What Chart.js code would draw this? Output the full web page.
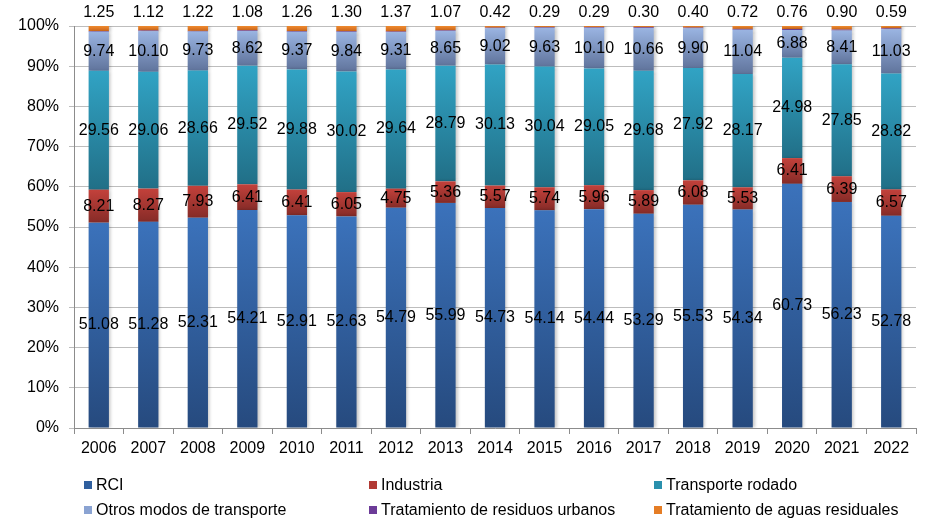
<!DOCTYPE html>
<html lang="es">
<head>
<meta charset="utf-8">
<title>Distribución de emisiones por sector</title>
<script src="https://cdn.jsdelivr.net/npm/chart.js@4"></script>
<style>
  html, body { margin: 0; padding: 0; background: #ffffff; }
  #wrap { width: 934px; height: 521px; position: relative; }
</style>
</head>
<body>
<div id="wrap"><canvas id="emisiones-canvas" width="934" height="521"></canvas></div>
<script>
// años y porcentajes por sector
const years = ["2006", "2007", "2008", "2009", "2010", "2011", "2012", "2013", "2014",
  "2015", "2016", "2017", "2018", "2019", "2020", "2021", "2022"];
const rci = [51.08, 51.28, 52.31, 54.21, 52.91, 52.63, 54.79, 55.99, 54.73,
  54.14, 54.44, 53.29, 55.53, 54.34, 60.73, 56.23, 52.78];
const industria = [8.21, 8.27, 7.93, 6.41, 6.41, 6.05, 4.75, 5.36, 5.57,
  5.74, 5.96, 5.89, 6.08, 5.53, 6.41, 6.39, 6.57];
const transporteRodado = [29.56, 29.06, 28.66, 29.52, 29.88, 30.02, 29.64, 28.79, 30.13,
  30.04, 29.05, 29.68, 27.92, 28.17, 24.98, 27.85, 28.82];
const otrosTransporte = [9.74, 10.10, 9.73, 8.62, 9.37, 9.84, 9.31, 8.65, 9.02,
  9.63, 10.10, 10.66, 9.90, 11.04, 6.88, 8.41, 11.03];
const residuosUrbanos = [0.16, 0.17, 0.15, 0.16, 0.17, 0.16, 0.14, 0.14, 0.13,
  0.16, 0.16, 0.18, 0.17, 0.20, 0.24, 0.22, 0.21];
const aguasResiduales = [1.25, 1.12, 1.22, 1.08, 1.26, 1.30, 1.37, 1.07, 0.42,
  0.29, 0.29, 0.30, 0.40, 0.72, 0.76, 0.90, 0.59];
const yTicks = [0, 10, 20, 30, 40, 50, 60, 70, 80, 90, 100];

const FONT = "'Liberation Sans', Arial, sans-serif";

// degradado vertical dentro de cada segmento apilado
function segmentFill(top, bottom, flat) {
  return function (c) {
    const chart = c.chart;
    if (!chart.chartArea || c.type !== "data") return flat;
    const y = chart.scales.y;
    let base = 0;
    for (let i = 0; i < c.datasetIndex; i++) base += chart.data.datasets[i].data[c.dataIndex];
    const v = chart.data.datasets[c.datasetIndex].data[c.dataIndex];
    const y0 = y.getPixelForValue(base + v);
    const y1 = y.getPixelForValue(base);
    if (!isFinite(y0) || !isFinite(y1) || y0 === y1) return flat;
    const g = chart.ctx.createLinearGradient(0, y0, 0, y1);
    g.addColorStop(0, top);
    g.addColorStop(1, bottom);
    return g;
  };
}

function makeDataset(label, data, top, bottom, flat) {
  return {
    label: label,
    data: data,
    backgroundColor: segmentFill(top, bottom, flat),
    legendColor: flat,
    borderWidth: 0,
    barPercentage: 0.41,
    categoryPercentage: 1.0,
  };
}

const datasets = [
  makeDataset("RCI", rci, "#3b72bb", "#264a7e", "#2f5f9e"),
  makeDataset("Industria", industria, "#c3413b", "#862b27", "#b23a34"),
  makeDataset("Transporte rodado", transporteRodado, "#31a3c4", "#216f87", "#2a90ad"),
  makeDataset("Otros modos de transporte", otrosTransporte, "#9ab4e2", "#60749c", "#8aa3d2"),
  makeDataset("Tratamiento de residuos urbanos", residuosUrbanos, "#7a45a8", "#5c2f85", "#6c3b98"),
  makeDataset("Tratamiento de aguas residuales", aguasResiduales, "#ee8a2e", "#d0681c", "#e57d25"),
];

// sombra suave a la derecha de las barras
const barShadow = {
  id: "barShadow",
  beforeDatasetDraw(chart) {
    const ctx = chart.ctx;
    ctx.save();
    ctx.shadowColor = "rgba(0,0,0,0.22)";
    ctx.shadowBlur = 3;
    ctx.shadowOffsetX = 2;
    ctx.shadowOffsetY = 0;
  },
  afterDatasetDraw(chart) {
    chart.ctx.restore();
  },
};

// etiquetas de valor en el centro de cada segmento, y encima para aguas residuales
const valueLabels = {
  id: "valueLabels",
  afterDatasetsDraw(chart) {
    const ctx = chart.ctx;
    ctx.save();
    ctx.font = "16px " + FONT;
    ctx.fillStyle = "#000000";
    ctx.textAlign = "center";
    ctx.textBaseline = "middle";
    chart.data.datasets.forEach((ds, di) => {
      if (di === 4) return;
      const meta = chart.getDatasetMeta(di);
      meta.data.forEach((bar, i) => {
        const txt = ds.data[i].toFixed(2);
        if (di === 5) {
          ctx.fillText(txt, bar.x, chart.chartArea.top - 13);
        } else {
          ctx.fillText(txt, bar.x, (bar.y + bar.base) / 2);
        }
      });
    });
    ctx.restore();
  },
};

// leyenda en dos filas y tres columnas
const gridLegend = {
  id: "gridLegend",
  afterDraw(chart) {
    const ctx = chart.ctx;
    const cols = [84, 369, 654];
    const rows = [485, 510];
    ctx.save();
    ctx.font = "16px " + FONT;
    ctx.fillStyle = "#000000";
    ctx.textBaseline = "middle";
    chart.data.datasets.forEach((ds, i) => {
      const x = cols[i % 3];
      const y = rows[Math.floor(i / 3)];
      ctx.fillStyle = ds.legendColor;
      ctx.fillRect(x, y - 4, 8, 8);
      ctx.fillStyle = "#000000";
      ctx.textAlign = "left";
      ctx.fillText(ds.label, x + 12, y + 1);
    });
    ctx.restore();
  },
};

const ctx = document.getElementById("emisiones-canvas").getContext("2d");

new Chart(ctx, {
  type: "bar",
  data: { labels: years, datasets: datasets },
  options: {
    responsive: false,
    animation: false,
    events: [],
    layout: { padding: { left: 0, right: 18, top: 26, bottom: 0 } },
    plugins: {
      legend: { display: false },
      tooltip: { enabled: false },
      title: { display: false },
    },
    scales: {
      x: {
        stacked: true,
        afterFit(scale) { scale.height = 93; },
        grid: {
          offset: true,
          drawOnChartArea: false,
          color: "#8c8c8c",
          tickLength: 6,
        },
        border: { color: "#8c8c8c" },
        ticks: {
          color: "#000000",
          font: { family: FONT, size: 16 },
          padding: 5,
          maxRotation: 0,
          autoSkip: false,
        },
      },
      y: {
        stacked: true,
        min: 0,
        max: 100,
        afterFit(scale) { scale.width = 74; },
        afterBuildTicks(scale) { scale.ticks = yTicks.map((v) => ({ value: v })); },
        grid: { color: "#bdbdbd", tickLength: 5 },
        border: { color: "#8c8c8c" },
        ticks: {
          color: "#000000",
          font: { family: FONT, size: 16 },
          padding: 10,
          callback: (v) => v + "%",
        },
      },
    },
  },
  plugins: [barShadow, valueLabels, gridLegend],
});
</script>
</body>
</html>
